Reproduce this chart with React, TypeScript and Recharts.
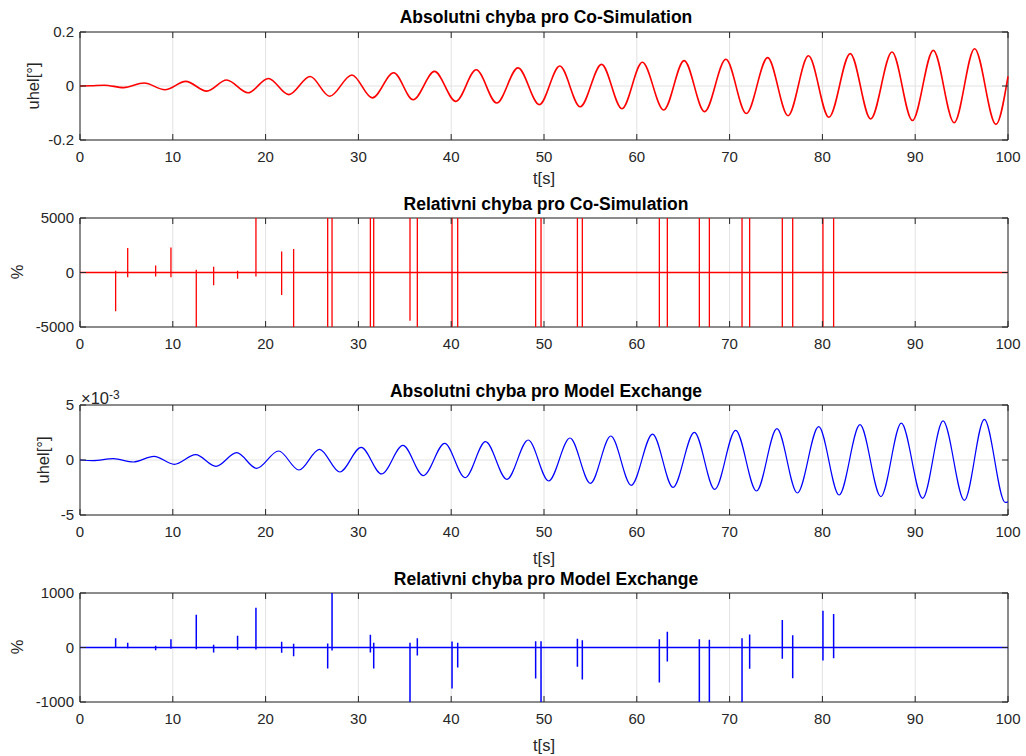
import { CartesianGrid, Line, LineChart, ReferenceArea, XAxis, YAxis } from "recharts";

// absolute error, Co-Simulation (peaks / troughs)
const csT = [0, 1.2, 2.6, 4.7, 6.9, 9.15, 11.4, 13.65, 15.8, 18.1, 20.3, 22.5, 24.8, 26.9, 29.3, 31.5, 33.8, 35.9, 38.2, 40.5, 42.7, 44.9, 47.2, 49.5, 51.7, 53.9, 56.2, 58.4, 60.6, 62.9, 65.1, 67.3, 69.6, 71.8, 74.1, 76.3, 78.5, 80.7, 83.0, 85.2, 87.5, 89.7, 91.95, 94.2, 96.4, 98.7, 100];
const csV = [0, 0.001, 0.003, -0.006, 0.011, -0.014, 0.017, -0.019, 0.022, -0.025, 0.028, -0.032, 0.035, -0.038, 0.041, -0.044, 0.049, -0.051, 0.054, -0.057, 0.06, -0.063, 0.067, -0.069, 0.074, -0.077, 0.08, -0.084, 0.088, -0.089, 0.094, -0.095, 0.099, -0.102, 0.105, -0.11, 0.112, -0.116, 0.12, -0.122, 0.126, -0.128, 0.132, -0.136, 0.138, -0.142, 0.036];

// absolute error, Model Exchange (units of 1e-3)
const meT = [0, 1.4, 3.6, 5.75, 7.97, 10.16, 12.46, 14.65, 16.88, 19.03, 21.4, 23.6, 25.8, 28.0, 30.3, 32.5, 34.8, 37.0, 39.3, 41.5, 43.7, 46.0, 48.3, 50.5, 52.8, 55.0, 57.2, 59.4, 61.7, 63.9, 66.2, 68.4, 70.65, 72.9, 75.1, 77.3, 79.6, 81.8, 84.05, 86.3, 88.5, 90.8, 93.0, 95.3, 97.45, 99.7, 100];
const meV = [0, -0.05, 0.12, -0.18, 0.33, -0.39, 0.48, -0.58, 0.67, -0.76, 0.82, -0.91, 0.97, -1.09, 1.15, -1.27, 1.33, -1.42, 1.52, -1.61, 1.67, -1.76, 1.82, -1.91, 2.0, -2.12, 2.18, -2.3, 2.36, -2.48, 2.52, -2.67, 2.7, -2.82, 2.85, -3.0, 3.03, -3.18, 3.21, -3.33, 3.36, -3.48, 3.55, -3.67, 3.7, -3.85, -3.8];

// relative error spikes (same times for both methods)
const spikeT = [3.84, 5.14, 8.15, 9.8, 12.53, 14.4, 16.98, 18.96, 21.73, 23.02, 26.69, 27.16, 31.29, 31.65, 35.56, 36.35, 40.09, 40.7, 49.1, 49.68, 53.6, 54.13, 62.43, 63.29, 66.74, 67.82, 71.34, 72.16, 75.68, 76.8, 80.06, 81.21];
const csHi = [150, 2240, 645, 2300, 245, 520, 150, 9000, 1930, 2150, 9000, 9000, 9000, 9000, 9000, 9000, 9000, 9000, 9000, 9000, 9000, 9000, 9000, 9000, 9000, 9000, 9000, 9000, 9000, 9000, 9000, 9000];
const csLo = [-3560, -430, -370, -430, -9000, -1170, -580, -370, -2060, -9000, -9000, -9000, -9000, -9000, -4420, -9000, -9000, -9000, -9000, -9000, -9000, -9000, -9000, -9000, -9000, -9000, -9000, -9000, -9000, -9000, -9000, -9000];
const meHi = [172, 86, 30, 153, 600, 50, 215, 730, 105, 67, 75, 1500, 233, 86, 86, 172, 110, 86, 116, 116, 160, 135, 153, 288, 153, 141, 172, 240, 503, 227, 674, 613];
const meLo = [-12, -18, -50, -25, -30, -92, -43, -37, -98, -160, -386, -55, -92, -386, -1500, -147, -754, -368, -570, -1500, -355, -588, -644, -257, -1500, -1500, -1500, -392, -208, -564, -240, -196];

const xTicks = [0, 10, 20, 30, 40, 50, 60, 70, 80, 90, 100];

const W = 1026;
const LEFT = 80;
const RIGHT = 1008;
const MT = 30;
const AXIS = "#262626";
const FONT = '"Liberation Sans", Arial, Helvetica, sans-serif';

function wave(ts: number[], vs: number[]) {
  return ts.map((t, i) => ({ t, v: vs[i] }));
}

function spikes(hi: number[], lo: number[]) {
  const out = [{ t: 0, v: 0 }];
  spikeT.forEach((t, i) => {
    out.push({ t, v: 0 }, { t, v: hi[i] }, { t, v: lo[i] }, { t, v: 0 });
  });
  out.push({ t: 100, v: 0 });
  return out;
}

type PanelProps = {
  top: number;
  plotH: number;
  data: { t: number; v: number }[];
  color: string;
  domain: [number, number];
  yTicks: number[];
  curve: "monotone" | "linear";
  sw: number;
};

function Panel({ top, plotH, data, color, domain, yTicks, curve, sw }: PanelProps) {
  const bottom = MT + plotH;

  const XTick = (p: any) => (
    <g>
      <line x1={p.x} x2={p.x} y1={bottom} y2={bottom - 6} stroke={AXIS} />
      <line x1={p.x} x2={p.x} y1={MT} y2={MT + 6} stroke={AXIS} />
      <text x={p.x} y={bottom + 17} dy="0.35em" textAnchor="middle" fill={AXIS} fontSize={15}>
        {p.payload.value}
      </text>
    </g>
  );

  const YTick = (p: any) => (
    <g>
      <line x1={LEFT} x2={LEFT + 6} y1={p.y} y2={p.y} stroke={AXIS} />
      <line x1={RIGHT - 6} x2={RIGHT} y1={p.y} y2={p.y} stroke={AXIS} />
      <text x={LEFT - 6} y={p.y} dy="0.35em" textAnchor="end" fill={AXIS} fontSize={15}>
        {p.payload.value}
      </text>
    </g>
  );

  return (
    <div style={{ position: "absolute", left: 0, top: top - MT }}>
      <LineChart width={W} height={plotH + MT + 50} data={data} margin={{ top: MT, right: W - RIGHT, bottom: 0, left: 20 }}>
        <CartesianGrid stroke="#e2e2e2" />
        <XAxis dataKey="t" type="number" domain={[0, 100]} ticks={xTicks} interval={0} tick={XTick} tickLine={false} axisLine={false} height={50} />
        <YAxis type="number" domain={domain} ticks={yTicks} interval={0} tick={YTick} tickLine={false} axisLine={false} width={60} allowDataOverflow />
        <Line type={curve} dataKey="v" stroke={color} strokeWidth={sw} dot={false} activeDot={false} isAnimationActive={false} />
        <ReferenceArea x1={0} x2={100} y1={domain[0]} y2={domain[1]} fill="none" stroke={AXIS} strokeWidth={1} />
      </LineChart>
    </div>
  );
}

const abs = (top: number, css: React.CSSProperties, text: React.ReactNode) => (
  <div style={{ position: "absolute", top, whiteSpace: "nowrap", lineHeight: 1, ...css }}>{text}</div>
);

const titleCss: React.CSSProperties = { left: LEFT + 2, width: RIGHT - LEFT, textAlign: "center", fontWeight: "bold", fontSize: 17.5, color: "#000" };
const xlabCss: React.CSSProperties = { left: LEFT, width: RIGHT - LEFT, textAlign: "center", fontSize: 16.5, color: AXIS };
const ylab = (cx: number, cy: number, text: string) => (
  <div style={{ position: "absolute", left: cx - 50, top: cy - 10, width: 100, height: 20, lineHeight: "20px", textAlign: "center", fontSize: 16.5, color: AXIS, transform: "rotate(-90deg)" }}>{text}</div>
);

export default function App() {
  return (
    <div style={{ position: "absolute", left: 0, top: 0, width: W, height: 756, background: "#fff", fontFamily: FONT, overflow: "hidden" }}>
      <Panel top={32} plotH={108} data={wave(csT, csV)} color="#ff0000" domain={[-0.2, 0.2]} yTicks={[-0.2, 0, 0.2]} curve="monotone" sw={1.6} />
      <Panel top={218} plotH={109} data={spikes(csHi, csLo)} color="#ff0000" domain={[-5000, 5000]} yTicks={[-5000, 0, 5000]} curve="linear" sw={1.3} />
      <Panel top={405} plotH={110} data={wave(meT, meV)} color="#0000ff" domain={[-5, 5]} yTicks={[-5, 0, 5]} curve="monotone" sw={1.2} />
      <Panel top={593} plotH={109} data={spikes(meHi, meLo)} color="#0000ff" domain={[-1000, 1000]} yTicks={[-1000, 0, 1000]} curve="linear" sw={1.5} />

      {abs(9, titleCss, "Absolutni chyba pro Co-Simulation")}
      {abs(196, titleCss, "Relativni chyba pro Co-Simulation")}
      {abs(383, titleCss, "Absolutni chyba pro Model Exchange")}
      {abs(571, titleCss, "Relativni chyba pro Model Exchange")}

      {abs(170, xlabCss, "t[s]")}
      {abs(550, xlabCss, "t[s]")}
      {abs(737, xlabCss, "t[s]")}

      {ylab(33, 86, "uhel[°]")}
      {ylab(17, 272, "%")}
      {ylab(43, 460, "uhel[°]")}
      {ylab(17, 647, "%")}

      {abs(389, { left: 81, fontSize: 16.5, color: AXIS }, <span>×10<sup style={{ fontSize: 12, verticalAlign: 5 }}>-3</sup></span>)}
    </div>
  );
}
